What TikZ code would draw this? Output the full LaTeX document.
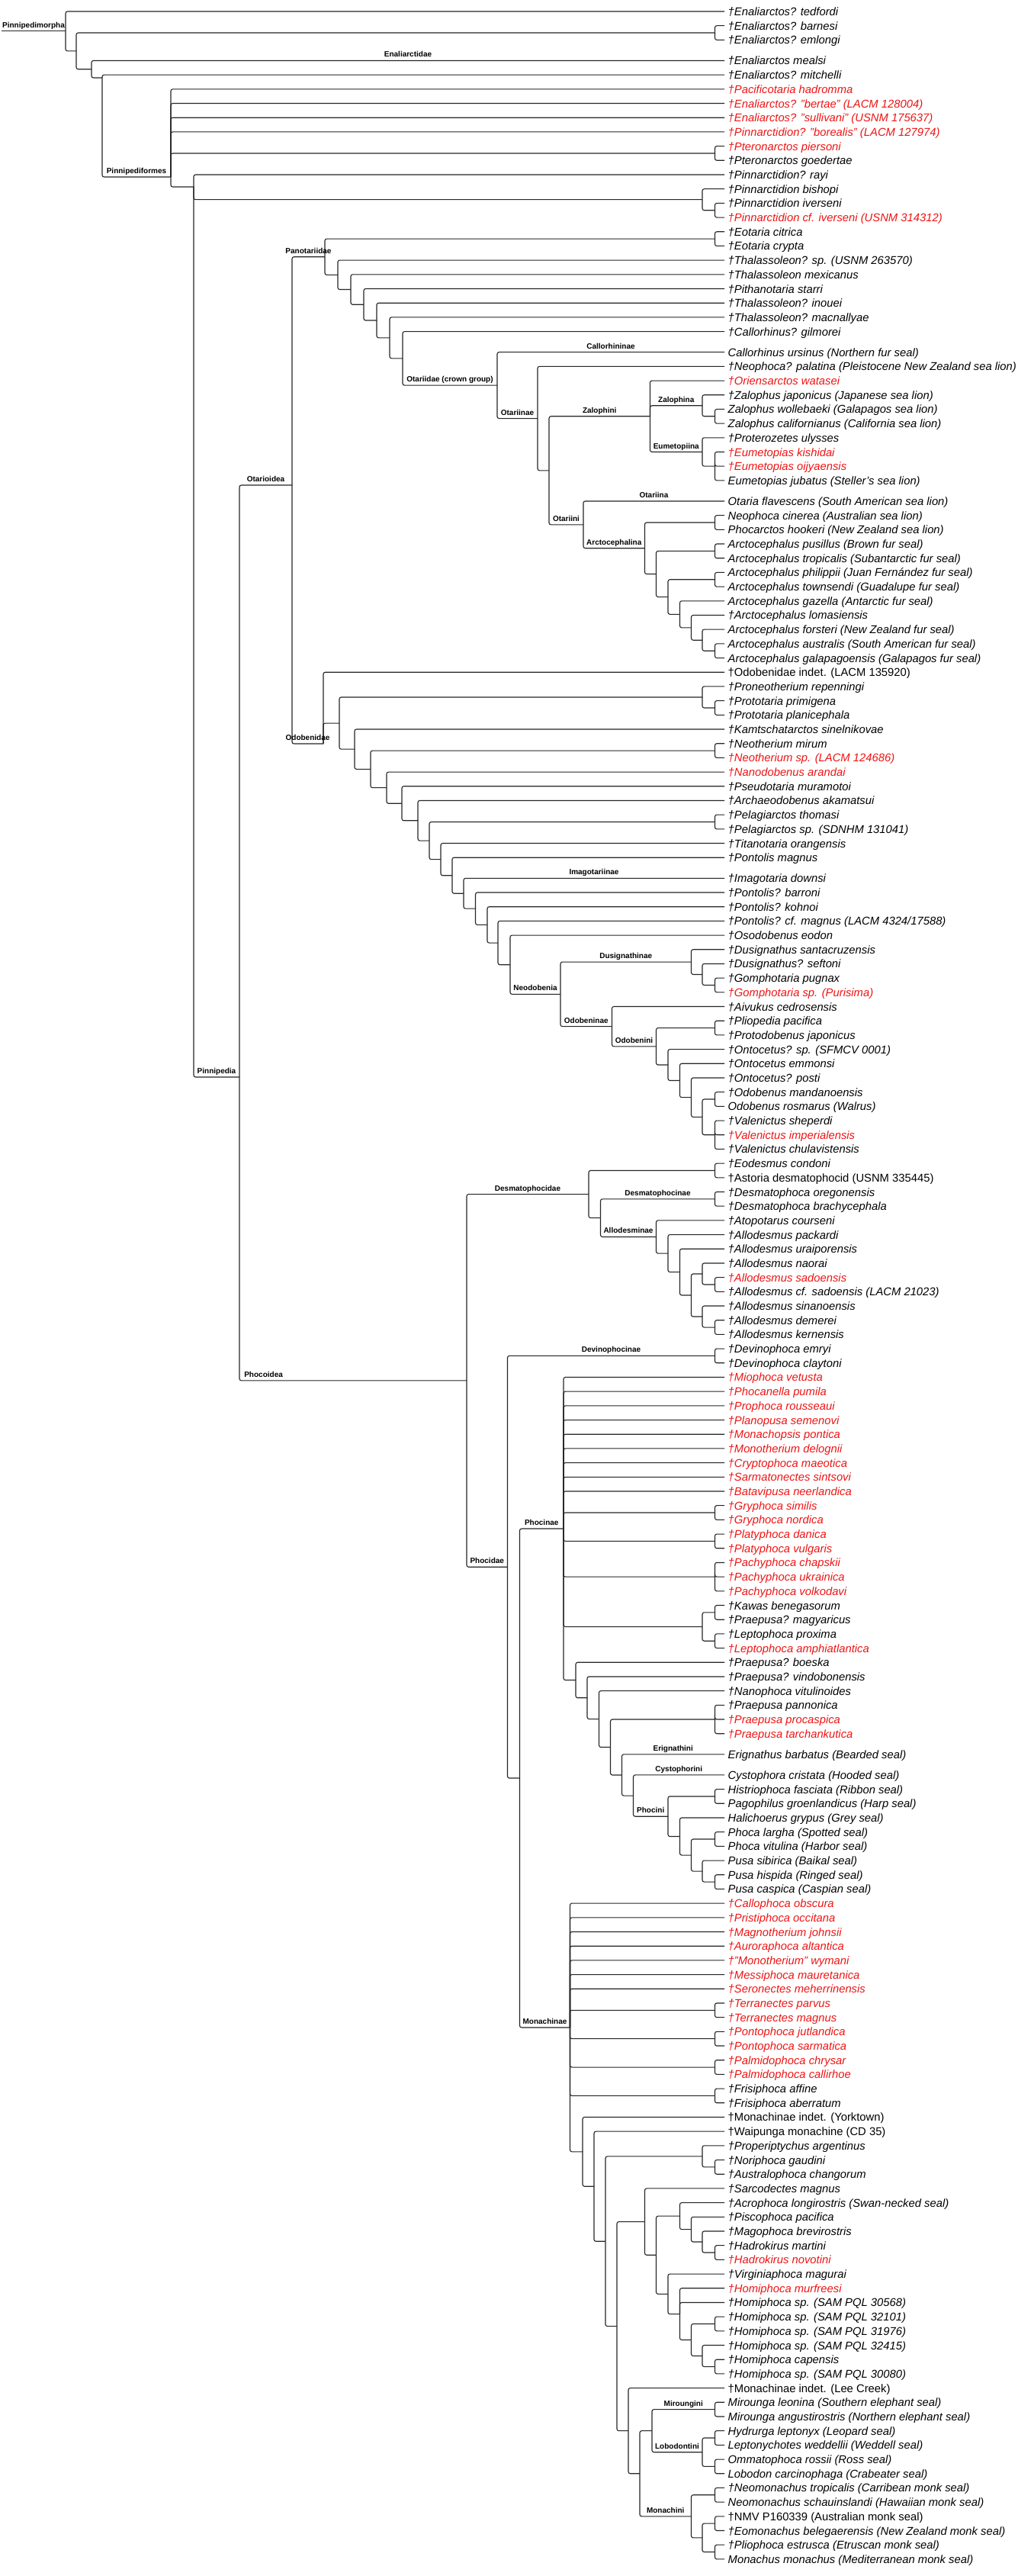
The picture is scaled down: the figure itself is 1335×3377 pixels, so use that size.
\documentclass[tikz,border=0pt]{standalone}
\usepackage{fontspec}
\setmainfont{Liberation Sans}
\usetikzlibrary{calc}
\definecolor{extred}{RGB}{238,20,20}
\tikzset{
 edge/.style={draw=black!85, line width=1.1pt, rounded corners=2.5pt},
 leaf/.style={anchor=west, inner xsep=4.5pt, inner ysep=0pt, text height=11pt, text depth=0pt, font=\fontsize{14.8}{18}\selectfont\itshape},
 up/.style={font=\fontsize{14.8}{18}\selectfont\upshape},
 ext/.style={text=extred},
 clade/.style={anchor=base, inner sep=0pt, yshift=4.5pt, font=\fontsize{10}{12}\selectfont\bfseries}
}
\newcommand\Lf[5]{\pgfmathsetmacro\yy{15+18.69*(#2-1)+8.4*#3}\node[leaf,#4] (#1) at (950,\yy) {#5};}
\newcommand\Nd[4]{\path let \p1=(#3), \p2=(#4) in coordinate (#1) at (#2pt,{0.5*\y1+0.5*\y2});}
\newcommand\Ed[2]{\foreach \ch in {#2}{\draw[edge] (#1) |- (\ch);}}
\newcommand\EdL[3]{\draw[edge] (#1) |- node[clade,pos=0.75]{#3} (#2);}
\begin{document}
\begin{tikzpicture}[x=1pt,y=-1pt]
\fill[white] (0,0) rectangle (1335,3377);
\useasboundingbox (0,0) rectangle (1335,3377);
% ---------------- leaves
\Lf{ted}{1}{0}{}{†Enaliarctos? tedfordi}
\Lf{barn}{2}{0}{}{†Enaliarctos? barnesi}
\Lf{emlo}{3}{0}{}{†Enaliarctos? emlongi}
\Lf{meal}{4}{1}{}{†Enaliarctos mealsi}
\Lf{mitc}{5}{1}{}{†Enaliarctos? mitchelli}
\Lf{paci}{6}{1}{ext}{†Pacificotaria hadromma}
\Lf{bert}{7}{1}{ext}{†Enaliarctos? "bertae" (LACM 128004)}
\Lf{sull}{8}{1}{ext}{†Enaliarctos? "sullivani" (USNM 175637)}
\Lf{bore}{9}{1}{ext}{†Pinnarctidion? "borealis" (LACM 127974)}
\Lf{pier}{10}{1}{ext}{†Pteronarctos piersoni}
\Lf{goed}{11}{1}{}{†Pteronarctos goedertae}
\Lf{rayi}{12}{1}{}{†Pinnarctidion? rayi}
\Lf{bish}{13}{1}{}{†Pinnarctidion bishopi}
\Lf{iver}{14}{1}{}{†Pinnarctidion iverseni}
\Lf{cfiv}{15}{1}{ext}{†Pinnarctidion cf. iverseni (USNM 314312)}
\Lf{eoci}{16}{1}{}{†Eotaria citrica}
\Lf{eocr}{17}{1}{}{†Eotaria crypta}
\Lf{thsp}{18}{1}{}{†Thalassoleon? sp. (USNM 263570)}
\Lf{thme}{19}{1}{}{†Thalassoleon mexicanus}
\Lf{pith}{20}{1}{}{†Pithanotaria starri}
\Lf{thin}{21}{1}{}{†Thalassoleon? inouei}
\Lf{thma}{22}{1}{}{†Thalassoleon? macnallyae}
\Lf{cagi}{23}{1}{}{†Callorhinus? gilmorei}
\Lf{caur}{24}{2}{}{Callorhinus ursinus (Northern fur seal)}
\Lf{nepa}{25}{2}{}{†Neophoca? palatina (Pleistocene New Zealand sea lion)}
\Lf{orie}{26}{2}{ext}{†Oriensarctos watasei}
\Lf{zaja}{27}{2}{}{†Zalophus japonicus (Japanese sea lion)}
\Lf{zawo}{28}{2}{}{Zalophus wollebaeki (Galapagos sea lion)}
\Lf{zaca}{29}{2}{}{Zalophus californianus (California sea lion)}
\Lf{prot}{30}{2}{}{†Proterozetes ulysses}
\Lf{eukis}{31}{2}{ext}{†Eumetopias kishidai}
\Lf{euoi}{32}{2}{ext}{†Eumetopias oijyaensis}
\Lf{eujub}{33}{2}{}{Eumetopias jubatus (Steller's sea lion)}
\Lf{otfl}{34}{3}{}{Otaria flavescens (South American sea lion)}
\Lf{neci}{35}{3}{}{Neophoca cinerea (Australian sea lion)}
\Lf{phho}{36}{3}{}{Phocarctos hookeri (New Zealand sea lion)}
\Lf{arpu}{37}{3}{}{Arctocephalus pusillus (Brown fur seal)}
\Lf{artr}{38}{3}{}{Arctocephalus tropicalis (Subantarctic fur seal)}
\Lf{arph}{39}{3}{}{Arctocephalus philippii (Juan Fernández fur seal)}
\Lf{arto}{40}{3}{}{Arctocephalus townsendi (Guadalupe fur seal)}
\Lf{arga}{41}{3}{}{Arctocephalus gazella (Antarctic fur seal)}
\Lf{arlo}{42}{3}{}{†Arctocephalus lomasiensis}
\Lf{arfo}{43}{3}{}{Arctocephalus forsteri (New Zealand fur seal)}
\Lf{arau}{44}{3}{}{Arctocephalus australis (South American fur seal)}
\Lf{argp}{45}{3}{}{Arctocephalus galapagoensis (Galapagos fur seal)}
\Lf{odin}{46}{3}{up}{†Odobenidae indet. (LACM 135920)}
\Lf{pron}{47}{3}{}{†Proneotherium repenningi}
\Lf{prpr}{48}{3}{}{†Prototaria primigena}
\Lf{prpl}{49}{3}{}{†Prototaria planicephala}
\Lf{kamt}{50}{3}{}{†Kamtschatarctos sinelnikovae}
\Lf{nemi}{51}{3}{}{†Neotherium mirum}
\Lf{nesp}{52}{3}{ext}{†Neotherium sp. (LACM 124686)}
\Lf{nano}{53}{3}{ext}{†Nanodobenus arandai}
\Lf{pseu}{54}{3}{}{†Pseudotaria muramotoi}
\Lf{arch}{55}{3}{}{†Archaeodobenus akamatsui}
\Lf{peth}{56}{3}{}{†Pelagiarctos thomasi}
\Lf{pesp}{57}{3}{}{†Pelagiarctos sp. (SDNHM 131041)}
\Lf{tita}{58}{3}{}{†Titanotaria orangensis}
\Lf{pomag}{59}{3}{}{†Pontolis magnus}
\Lf{imdo}{60}{4}{}{†Imagotaria downsi}
\Lf{poba}{61}{4}{}{†Pontolis? barroni}
\Lf{poko}{62}{4}{}{†Pontolis? kohnoi}
\Lf{pocf}{63}{4}{}{†Pontolis? cf. magnus (LACM 4324/17588)}
\Lf{osod}{64}{4}{}{†Osodobenus eodon}
\Lf{dusa}{65}{4}{}{†Dusignathus santacruzensis}
\Lf{duse}{66}{4}{}{†Dusignathus? seftoni}
\Lf{gopu}{67}{4}{}{†Gomphotaria pugnax}
\Lf{gosp}{68}{4}{ext}{†Gomphotaria sp. (Purisima)}
\Lf{aivu}{69}{4}{}{†Aivukus cedrosensis}
\Lf{plpa}{70}{4}{}{†Pliopedia pacifica}
\Lf{prja}{71}{4}{}{†Protodobenus japonicus}
\Lf{onsp}{72}{4}{}{†Ontocetus? sp. (SFMCV 0001)}
\Lf{onem}{73}{4}{}{†Ontocetus emmonsi}
\Lf{onpo}{74}{4}{}{†Ontocetus? posti}
\Lf{odma}{75}{4}{}{†Odobenus mandanoensis}
\Lf{odro}{76}{4}{}{Odobenus rosmarus (Walrus)}
\Lf{vash}{77}{4}{}{†Valenictus sheperdi}
\Lf{vaim}{78}{4}{ext}{†Valenictus imperialensis}
\Lf{vach}{79}{4}{}{†Valenictus chulavistensis}
\Lf{eode}{80}{4}{}{†Eodesmus condoni}
\Lf{asto}{81}{4}{up}{†Astoria desmatophocid (USNM 335445)}
\Lf{deor}{82}{4}{}{†Desmatophoca oregonensis}
\Lf{debr}{83}{4}{}{†Desmatophoca brachycephala}
\Lf{atop}{84}{4}{}{†Atopotarus courseni}
\Lf{alpa}{85}{4}{}{†Allodesmus packardi}
\Lf{alur}{86}{4}{}{†Allodesmus uraiporensis}
\Lf{alna}{87}{4}{}{†Allodesmus naorai}
\Lf{alsa}{88}{4}{ext}{†Allodesmus sadoensis}
\Lf{alcf}{89}{4}{}{†Allodesmus cf. sadoensis (LACM 21023)}
\Lf{alsi}{90}{4}{}{†Allodesmus sinanoensis}
\Lf{alde}{91}{4}{}{†Allodesmus demerei}
\Lf{alke}{92}{4}{}{†Allodesmus kernensis}
\Lf{deem}{93}{4}{}{†Devinophoca emryi}
\Lf{decl}{94}{4}{}{†Devinophoca claytoni}
\Lf{miop}{95}{4}{ext}{†Miophoca vetusta}
\Lf{phpu}{96}{4}{ext}{†Phocanella pumila}
\Lf{prro}{97}{4}{ext}{†Prophoca rousseaui}
\Lf{plse}{98}{4}{ext}{†Planopusa semenovi}
\Lf{mopo}{99}{4}{ext}{†Monachopsis pontica}
\Lf{mode}{100}{4}{ext}{†Monotherium delognii}
\Lf{crma}{101}{4}{ext}{†Cryptophoca maeotica}
\Lf{sasi}{102}{4}{ext}{†Sarmatonectes sintsovi}
\Lf{bane}{103}{4}{ext}{†Batavipusa neerlandica}
\Lf{grsi}{104}{4}{ext}{†Gryphoca similis}
\Lf{grno}{105}{4}{ext}{†Gryphoca nordica}
\Lf{plda}{106}{4}{ext}{†Platyphoca danica}
\Lf{plvu}{107}{4}{ext}{†Platyphoca vulgaris}
\Lf{pach}{108}{4}{ext}{†Pachyphoca chapskii}
\Lf{paukr}{109}{4}{ext}{†Pachyphoca ukrainica}
\Lf{pavo}{110}{4}{ext}{†Pachyphoca volkodavi}
\Lf{kawa}{111}{4}{}{†Kawas benegasorum}
\Lf{prma}{112}{4}{}{†Praepusa? magyaricus}
\Lf{lepr}{113}{4}{}{†Leptophoca proxima}
\Lf{leam}{114}{4}{ext}{†Leptophoca amphiatlantica}
\Lf{prbo}{115}{4}{}{†Praepusa? boeska}
\Lf{prvi}{116}{4}{}{†Praepusa? vindobonensis}
\Lf{nanv}{117}{4}{}{†Nanophoca vitulinoides}
\Lf{prpa}{118}{4}{}{†Praepusa pannonica}
\Lf{prpc}{119}{4}{ext}{†Praepusa procaspica}
\Lf{prta}{120}{4}{ext}{†Praepusa tarchankutica}
\Lf{erba}{121}{5}{}{Erignathus barbatus (Bearded seal)}
\Lf{cycr}{122}{6}{}{Cystophora cristata (Hooded seal)}
\Lf{hifa}{123}{6}{}{Histriophoca fasciata (Ribbon seal)}
\Lf{pagr}{124}{6}{}{Pagophilus groenlandicus (Harp seal)}
\Lf{hagr}{125}{6}{}{Halichoerus grypus (Grey seal)}
\Lf{phla}{126}{6}{}{Phoca largha (Spotted seal)}
\Lf{phvi}{127}{6}{}{Phoca vitulina (Harbor seal)}
\Lf{pusi}{128}{6}{}{Pusa sibirica (Baikal seal)}
\Lf{puhi}{129}{6}{}{Pusa hispida (Ringed seal)}
\Lf{puca}{130}{6}{}{Pusa caspica (Caspian seal)}
\Lf{caob}{131}{6}{ext}{†Callophoca obscura}
\Lf{proc}{132}{6}{ext}{†Pristiphoca occitana}
\Lf{majo}{133}{6}{ext}{†Magnotherium johnsii}
\Lf{aual}{134}{6}{ext}{†Auroraphoca altantica}
\Lf{mowy}{135}{6}{ext}{†"Monotherium" wymani}
\Lf{mema}{136}{6}{ext}{†Messiphoca mauretanica}
\Lf{seme}{137}{6}{ext}{†Seronectes meherrinensis}
\Lf{tepa}{138}{6}{ext}{†Terranectes parvus}
\Lf{tema}{139}{6}{ext}{†Terranectes magnus}
\Lf{poju}{140}{6}{ext}{†Pontophoca jutlandica}
\Lf{posa}{141}{6}{ext}{†Pontophoca sarmatica}
\Lf{pmch}{142}{6}{ext}{†Palmidophoca chrysar}
\Lf{pmca}{143}{6}{ext}{†Palmidophoca callirhoe}
\Lf{fraf}{144}{6}{}{†Frisiphoca affine}
\Lf{frab}{145}{6}{}{†Frisiphoca aberratum}
\Lf{moyo}{146}{6}{up}{†Monachinae indet. (Yorktown)}
\Lf{waip}{147}{6}{up}{†Waipunga monachine (CD 35)}
\Lf{prar}{148}{6}{}{†Properiptychus argentinus}
\Lf{noga}{149}{6}{}{†Noriphoca gaudini}
\Lf{auch}{150}{6}{}{†Australophoca changorum}
\Lf{sama}{151}{6}{}{†Sarcodectes magnus}
\Lf{aclo}{152}{6}{}{†Acrophoca longirostris (Swan-necked seal)}
\Lf{pipa}{153}{6}{}{†Piscophoca pacifica}
\Lf{mabr}{154}{6}{}{†Magophoca brevirostris}
\Lf{hama}{155}{6}{}{†Hadrokirus martini}
\Lf{hano}{156}{6}{ext}{†Hadrokirus novotini}
\Lf{vima}{157}{6}{}{†Virginiaphoca magurai}
\Lf{homu}{158}{6}{ext}{†Homiphoca murfreesi}
\Lf{hoa}{159}{6}{}{†Homiphoca sp. (SAM PQL 30568)}
\Lf{hob}{160}{6}{}{†Homiphoca sp. (SAM PQL 32101)}
\Lf{hoc}{161}{6}{}{†Homiphoca sp. (SAM PQL 31976)}
\Lf{hod}{162}{6}{}{†Homiphoca sp. (SAM PQL 32415)}
\Lf{hoca}{163}{6}{}{†Homiphoca capensis}
\Lf{hoe}{164}{6}{}{†Homiphoca sp. (SAM PQL 30080)}
\Lf{mole}{165}{6}{up}{†Monachinae indet. (Lee Creek)}
\Lf{mile}{166}{6}{}{Mirounga leonina (Southern elephant seal)}
\Lf{mian}{167}{6}{}{Mirounga angustirostris (Northern elephant seal)}
\Lf{hyle}{168}{6}{}{Hydrurga leptonyx (Leopard seal)}
\Lf{lewe}{169}{6}{}{Leptonychotes weddellii (Weddell seal)}
\Lf{omro}{170}{6}{}{Ommatophoca rossii (Ross seal)}
\Lf{loca}{171}{6}{}{Lobodon carcinophaga (Crabeater seal)}
\Lf{netr}{172}{6}{}{†Neomonachus tropicalis (Carribean monk seal)}
\Lf{nesc}{173}{6}{}{Neomonachus schauinslandi (Hawaiian monk seal)}
\Lf{nmv}{174}{6}{up}{†NMV P160339 (Australian monk seal)}
\Lf{eobe}{175}{6}{}{†Eomonachus belegaerensis (New Zealand monk seal)}
\Lf{plie}{176}{6}{}{†Pliophoca estrusca (Etruscan monk seal)}
\Lf{moma}{177}{6}{}{Monachus monachus (Mediterranean monk seal)}
% ---------------- top
\Nd{cBE}{937.5}{barn}{emlo}\Ed{cBE}{barn,emlo}
\Nd{cPt}{937.5}{pier}{goed}\Ed{cPt}{pier,goed}
\Nd{cIv}{937.5}{iver}{cfiv}\Ed{cIv}{iver,cfiv}
\Nd{nPin}{921}{bish}{cIv}\Ed{nPin}{bish,cIv}
% ---------------- Otariidae crown
\Nd{cEo}{937.5}{eoci}{eocr}\Ed{cEo}{eoci,eocr}
\Nd{cZa}{937.5}{zawo}{zaca}\Ed{cZa}{zawo,zaca}
\Nd{nZal}{921}{zaja}{cZa}\Ed{nZal}{zaja,cZa}
\Nd{pEu}{937.5}{eukis}{eujub}\Ed{pEu}{eukis,euoi,eujub}
\Nd{nEum}{921}{prot}{pEu}\Ed{nEum}{prot,pEu}
\Nd{nZlp}{852.5}{orie}{nEum}\Ed{nZlp}{orie}\EdL{nZlp}{nZal}{Zalophina}\EdL{nZlp}{nEum}{Eumetopiina}
\Nd{cNe}{937.5}{neci}{phho}\Ed{cNe}{neci,phho}
\Nd{cAp}{937.5}{arpu}{artr}\Ed{cAp}{arpu,artr}
\Nd{cAt}{937.5}{arph}{arto}\Ed{cAt}{arph,arto}
\Nd{cAa}{937.5}{arau}{argp}\Ed{cAa}{arau,argp}
\Nd{nAa}{921}{arfo}{cAa}\Ed{nAa}{arfo,cAa}
\Nd{nAb}{906.5}{arlo}{nAa}\Ed{nAb}{arlo,nAa}
\Nd{nAc}{891.5}{arga}{nAb}\Ed{nAc}{arga,nAb}
\Nd{nAd}{876}{cAt}{nAc}\Ed{nAd}{cAt,nAc}
\Nd{nAe}{860.5}{cAp}{nAd}\Ed{nAe}{cAp,nAd}
\Nd{nArc}{845.5}{cNe}{nAe}\Ed{nArc}{cNe,nAe}
\Nd{nOti}{765}{otfl}{nArc}\EdL{nOti}{otfl}{Otariina}\EdL{nOti}{nArc}{Arctocephalina}
\Nd{nZO}{720}{nZlp}{nOti}\EdL{nZO}{nZlp}{Zalophini}\EdL{nZO}{nOti}{Otariini}
\Nd{nOtn}{705}{nepa}{nZO}\Ed{nOtn}{nepa,nZO}
\Nd{nCr}{652}{caur}{nOtn}\EdL{nCr}{caur}{Callorhininae}\EdL{nCr}{nOtn}{Otariinae}
\Nd{P7}{528}{cagi}{nCr}\Ed{P7}{cagi}\EdL{P7}{nCr}{Otariidae (crown group)}
\Nd{P6}{511}{thma}{P7}\Ed{P6}{thma,P7}
\Nd{P5}{494}{thin}{P6}\Ed{P5}{thin,P6}
\Nd{P4}{477}{pith}{P5}\Ed{P4}{pith,P5}
\Nd{P3}{460}{thme}{P4}\Ed{P3}{thme,P4}
\Nd{P2}{443}{thsp}{P3}\Ed{P2}{thsp,P3}
\Nd{P1}{426}{cEo}{P2}\Ed{P1}{cEo,P2}
% ---------------- Odobenidae
\Nd{cPr}{937.5}{prpr}{prpl}\Ed{cPr}{prpr,prpl}
\Nd{nPro}{921}{pron}{cPr}\Ed{nPro}{pron,cPr}
\Nd{cNt}{937.5}{nemi}{nesp}\Ed{cNt}{nemi,nesp}
\Nd{cPe}{937.5}{peth}{pesp}\Ed{cPe}{peth,pesp}
\Nd{cDu}{937.5}{gopu}{gosp}\Ed{cDu}{gopu,gosp}
\Nd{nDu}{921}{duse}{cDu}\Ed{nDu}{duse,cDu}
\Nd{nDus}{906.5}{dusa}{nDu}\Ed{nDus}{dusa,nDu}
\Nd{cPl}{937.5}{plpa}{prja}\Ed{cPl}{plpa,prja}
\Nd{cOd}{937.5}{odma}{odro}\Ed{cOd}{odma,odro}
\Nd{pVa}{937.5}{vash}{vach}\Ed{pVa}{vash,vaim,vach}
\Nd{nO1}{921}{cOd}{pVa}\Ed{nO1}{cOd,pVa}
\Nd{nO2}{906.5}{onpo}{nO1}\Ed{nO2}{onpo,nO1}
\Nd{nO3}{891.5}{onem}{nO2}\Ed{nO3}{onem,nO2}
\Nd{nO4}{876}{onsp}{nO3}\Ed{nO4}{onsp,nO3}
\Nd{nObi}{860.5}{cPl}{nO4}\Ed{nObi}{cPl,nO4}
\Nd{nObn}{802.5}{aivu}{nObi}\Ed{nObn}{aivu}\EdL{nObn}{nObi}{Odobenini}
\Nd{nNeo}{735}{nDus}{nObn}\EdL{nNeo}{nDus}{Dusignathinae}\EdL{nNeo}{nObn}{Odobeninae}
\Nd{n669}{669}{osod}{nNeo}\Ed{n669}{osod}\EdL{n669}{nNeo}{Neodobenia}
\Nd{n653}{653}{pocf}{n669}\Ed{n653}{pocf,n669}
\Nd{n639}{639}{poko}{n653}\Ed{n639}{poko,n653}
\Nd{n623}{623.5}{poba}{n639}\Ed{n623}{poba,n639}
\Nd{n608}{608}{imdo}{n623}\EdL{n608}{imdo}{Imagotariinae}\Ed{n608}{n623}
\Nd{n593}{593}{pomag}{n608}\Ed{n593}{pomag,n608}
\Nd{n578}{578}{tita}{n593}\Ed{n578}{tita,n593}
\Nd{n563}{563}{cPe}{n578}\Ed{n563}{cPe,n578}
\Nd{n548}{548}{arch}{n563}\Ed{n548}{arch,n563}
\Nd{n527}{527}{pseu}{n548}\Ed{n527}{pseu,n548}
\Nd{n507}{507}{nano}{n527}\Ed{n507}{nano,n527}
\Nd{n486}{486}{cNt}{n507}\Ed{n486}{cNt,n507}
\Nd{n465}{465}{kamt}{n486}\Ed{n465}{kamt,n486}
\Nd{n445}{445}{nPro}{n465}\Ed{n445}{nPro,n465}
\coordinate (nOdb) at (424,975);
\Ed{nOdb}{odin,n445}
% ---------------- Desmatophocidae
\Nd{cEd}{937.5}{eode}{asto}\Ed{cEd}{eode,asto}
\Nd{cDe}{937.5}{deor}{debr}\Ed{cDe}{deor,debr}
\Nd{cAs}{937.5}{alsa}{alcf}\Ed{cAs}{alsa,alcf}
\Nd{nL1}{921}{alna}{cAs}\Ed{nL1}{alna,cAs}
\Nd{cAd}{937.5}{alde}{alke}\Ed{cAd}{alde,alke}
\Nd{nL2}{921}{alsi}{cAd}\Ed{nL2}{alsi,cAd}
\Nd{nL3}{906.5}{nL1}{nL2}\Ed{nL3}{nL1,nL2}
\Nd{nL4}{891.5}{alur}{nL3}\Ed{nL4}{alur,nL3}
\Nd{nL5}{876}{alpa}{nL4}\Ed{nL5}{alpa,nL4}
\Nd{nAll}{860.5}{atop}{nL5}\Ed{nAll}{atop,nL5}
\Nd{nDA}{787.5}{cDe}{nAll}\EdL{nDA}{cDe}{Desmatophocinae}\EdL{nDA}{nAll}{Allodesminae}
\Nd{nDes}{772}{cEd}{nDA}\Ed{nDes}{cEd,nDA}
% ---------------- Phocinae
\Nd{cDv}{937.5}{deem}{decl}\Ed{cDv}{deem,decl}
\Nd{cGr}{937.5}{grsi}{grno}\Ed{cGr}{grsi,grno}
\Nd{cPy}{937.5}{plda}{plvu}\Ed{cPy}{plda,plvu}
\Nd{pPa}{937.5}{pach}{pavo}\Ed{pPa}{pach,paukr,pavo}
\Nd{cKa}{937.5}{kawa}{prma}\Ed{cKa}{kawa,prma}
\Nd{cLe}{937.5}{lepr}{leam}\Ed{cLe}{lepr,leam}
\Nd{nKL}{921}{cKa}{cLe}\Ed{nKL}{cKa,cLe}
\Nd{pPr}{937.5}{prpa}{prta}\Ed{pPr}{prpa,prpc,prta}
\Nd{cHP}{937.5}{hifa}{pagr}\Ed{cHP}{hifa,pagr}
\Nd{cPh}{937.5}{phla}{phvi}\Ed{cPh}{phla,phvi}
\Nd{cPu}{937.5}{puhi}{puca}\Ed{cPu}{puhi,puca}
\Nd{nQ1}{921}{pusi}{cPu}\Ed{nQ1}{pusi,cPu}
\Nd{nQ2}{906.5}{cPh}{nQ1}\Ed{nQ2}{cPh,nQ1}
\Nd{nQ3}{891.5}{hagr}{nQ2}\Ed{nQ3}{hagr,nQ2}
\Nd{nPhi}{876}{cHP}{nQ3}\Ed{nPhi}{cHP,nQ3}
\Nd{n830}{830.5}{cycr}{nPhi}\EdL{n830}{cycr}{Cystophorini}\EdL{n830}{nPhi}{Phocini}
\Nd{n815}{815.5}{erba}{n830}\EdL{n815}{erba}{Erignathini}\Ed{n815}{n830}
\Nd{n800}{800.5}{pPr}{n815}\Ed{n800}{pPr,n815}
\Nd{n785}{785.5}{nanv}{n800}\Ed{n785}{nanv,n800}
\Nd{n770}{770}{prvi}{n785}\Ed{n770}{prvi,n785}
\Nd{n755}{755}{prbo}{n770}\Ed{n755}{prbo,n770}
\Nd{nPhn}{739}{miop}{n755}\Ed{nPhn}{miop,phpu,prro,plse,mopo,mode,crma,sasi,bane,cGr,cPy,pPa,nKL,n755}
% ---------------- Monachinae
\Nd{cTe}{937.5}{tepa}{tema}\Ed{cTe}{tepa,tema}
\Nd{cPo}{937.5}{poju}{posa}\Ed{cPo}{poju,posa}
\Nd{cPm}{937.5}{pmch}{pmca}\Ed{cPm}{pmch,pmca}
\Nd{cFr}{937.5}{fraf}{frab}\Ed{cFr}{fraf,frab}
\Nd{cNA}{937.5}{noga}{auch}\Ed{cNA}{noga,auch}
\Nd{nPA}{921}{prar}{cNA}\Ed{nPA}{prar,cNA}
\Nd{cHa}{937.5}{hama}{hano}\Ed{cHa}{hama,hano}
\Nd{nH1}{921}{mabr}{cHa}\Ed{nH1}{mabr,cHa}
\Nd{nH2}{906.5}{pipa}{nH1}\Ed{nH2}{pipa,nH1}
\Nd{nH3}{891.5}{aclo}{nH2}\Ed{nH3}{aclo,nH2}
\Nd{cHb}{937.5}{hob}{hoc}\Ed{cHb}{hob,hoc}
\Nd{cHc}{937.5}{hoca}{hoe}\Ed{cHc}{hoca,hoe}
\Nd{nM1}{921}{hod}{cHc}\Ed{nM1}{hod,cHc}
\Nd{nM2}{906.5}{cHb}{nM1}\Ed{nM2}{cHb,nM1}
\Nd{nM3}{891.5}{homu}{nM2}\Ed{nM3}{homu,hoa,nM2}
\Nd{nM4}{876}{vima}{nM3}\Ed{nM4}{vima,nM3}
\Nd{nM5}{860.5}{nH3}{nM4}\Ed{nM5}{nH3,nM4}
\Nd{nM6}{845.5}{sama}{nM5}\Ed{nM6}{sama,nM5}
\Nd{cMi}{937.5}{mile}{mian}\Ed{cMi}{mile,mian}
\Nd{cHL}{937.5}{hyle}{lewe}\Ed{cHL}{hyle,lewe}
\Nd{cOL}{937.5}{omro}{loca}\Ed{cOL}{omro,loca}
\Nd{nLob}{921}{cHL}{cOL}\Ed{nLob}{cHL,cOL}
\Nd{n855}{855}{cMi}{nLob}\EdL{n855}{cMi}{Miroungini}\EdL{n855}{nLob}{Lobodontini}
\Nd{cNm}{937.5}{netr}{nesc}\Ed{cNm}{netr,nesc}
\Nd{cNE}{937.5}{nmv}{eobe}\Ed{cNE}{nmv,eobe}
\Nd{cPM}{937.5}{plie}{moma}\Ed{cPM}{plie,moma}
\Nd{nMo1}{921}{cNE}{cPM}\Ed{nMo1}{cNE,cPM}
\Nd{nMon}{906.5}{cNm}{nMo1}\Ed{nMon}{cNm,nMo1}
\Nd{n839}{839}{n855}{nMon}\Ed{n839}{n855}\EdL{n839}{nMon}{Monachini}
\Nd{n824}{824}{mole}{n839}\Ed{n824}{mole,n839}
\Nd{n809}{809}{nM6}{n824}\Ed{n809}{nM6,n824}
\Nd{n794}{794}{nPA}{n809}\Ed{n794}{nPA,n809}
\Nd{n779}{779}{waip}{n794}\Ed{n779}{waip,n794}
\Nd{n764}{764}{moyo}{n779}\Ed{n764}{moyo,n779}
\Nd{nMnn}{747.5}{caob}{n764}\Ed{nMnn}{caob,proc,majo,aual,mowy,mema,seme,cTe,cPo,cPm,cFr,n764}
\Nd{n681}{681.5}{nPhn}{nMnn}\EdL{n681}{nPhn}{Phocinae}\EdL{n681}{nMnn}{Monachinae}
\Nd{nPhd}{665.5}{cDv}{n681}\EdL{nPhd}{cDv}{Devinophocinae}\Ed{nPhd}{n681}
\Nd{nPhc}{612}{nDes}{nPhd}\EdL{nPhc}{nDes}{Desmatophocidae}\EdL{nPhc}{nPhd}{Phocidae}
% ---------------- deep nodes (placed as drawn in the reference)
\coordinate (nOta) at (383,636);
\EdL{nOta}{P1}{Panotariidae}\EdL{nOta}{nOdb}{Odobenidae}
\coordinate (nPnp) at (314,1412);
\EdL{nPnp}{nOta}{Otarioidea}
\draw[edge] (nPnp) |- node[clade,pos=0.553]{Phocoidea} (nPhc);
\coordinate (nD) at (254,245);
\Ed{nD}{rayi,nPin}\EdL{nD}{nPnp}{Pinnipedia}
\coordinate (nPf) at (224,232);
\Ed{nPf}{paci,bert,sull,bore,cPt,nD}
\coordinate (nC) at (134,102);
\Ed{nC}{mitc}\EdL{nC}{nPf}{Pinnipediformes}
\Nd{nB}{120}{meal}{nC}\EdL{nB}{meal}{Enaliarctidae}\Ed{nB}{nC}
\Nd{nA}{100}{cBE}{nB}\Ed{nA}{cBE,nB}
\Nd{nR}{86}{ted}{nA}\Ed{nR}{ted,nA}
\path let \p1=(nR) in coordinate (r0) at (2pt,\y1);
\draw[edge] (r0) -- node[clade,pos=0.5]{Pinnipedimorpha} (nR);
\end{tikzpicture}
\end{document}
